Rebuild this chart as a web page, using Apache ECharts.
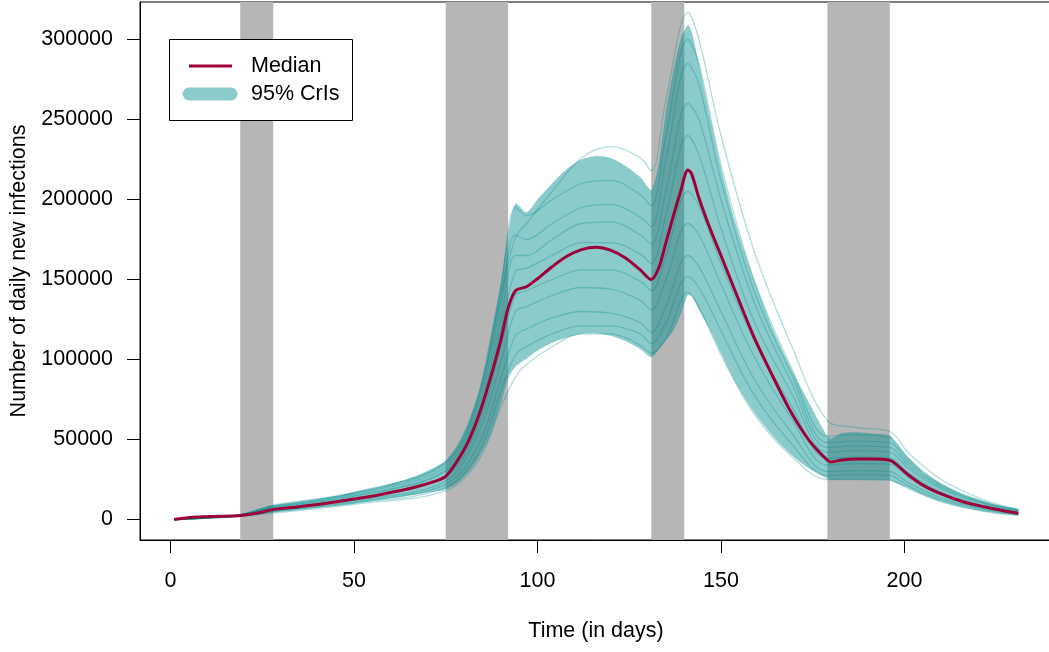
<!DOCTYPE html>
<html>
<head>
<meta charset="utf-8">
<script src="https://cdn.jsdelivr.net/npm/echarts@6/dist/echarts.min.js"></script>
<style>
  body { margin: 0; padding: 0; background: #fff; }
  #chart { width: 1049px; height: 652px; }
</style>
</head>
<body>
<div id="chart"></div>
<script>
const days = [1, 7, 14, 19, 24, 28, 35, 42, 50, 58, 66, 72, 75, 78, 81, 84, 87, 90, 92, 94,
  97, 100, 104, 108, 112, 116, 120, 124, 128, 131, 133, 135, 137, 139, 141, 142, 144, 147, 150, 154,
  159, 164, 169, 174, 179, 180, 183, 187, 191, 196, 198, 201, 205, 210, 216, 222, 227, 231];

const median = [0, 1500, 2000, 2500, 4200, 6300, 8000, 10000, 12800, 16000, 19800, 23800, 27000, 36000, 48000, 65000, 87000, 112000, 132000, 143000,
  145500, 150500, 158000, 164500, 168700, 170200, 168200, 163500, 156000, 150000, 157000, 173000, 189500, 205000, 218500, 216000, 201000, 182000, 165000, 142000,
  114000, 90000, 67500, 49500, 37000, 36000, 37200, 37800, 37800, 37000, 34000, 28000, 21500, 16000, 11100, 7800, 5500, 3900];

const upper = [0, 1800, 2500, 3200, 6500, 9000, 11000, 13500, 17000, 21000, 26500, 32500, 37000, 46000, 60000, 80000, 112000, 148000, 178000, 197500,
  192000, 200000, 210000, 219000, 225000, 227200, 226000, 221000, 214000, 206000, 222000, 255000, 280000, 300000, 309000, 305000, 285000, 252000, 220000, 185000,
  150000, 120000, 95000, 73000, 52000, 50500, 54000, 54500, 53800, 52500, 47000, 39000, 30000, 22500, 15500, 11000, 8000, 6300];

const lower = [0, 1200, 1700, 2000, 3000, 4400, 6000, 7800, 9900, 12500, 15300, 17500, 18800, 22500, 29000, 38500, 52000, 72000, 88000, 95500,
  100500, 105500, 110500, 113800, 116000, 116300, 114800, 111500, 106500, 101500, 106000, 112000, 118000, 128000, 140500, 139500, 131000, 118500, 104000, 85500,
  67000, 52500, 40800, 31800, 25500, 24800, 24800, 24800, 24800, 24500, 22500, 19800, 15500, 11200, 7500, 5000, 3500, 2700];

// individual posterior trajectories (thin lines)
const sampleDays = [1, 19, 28, 50, 75, 84, 90, 94, 97, 104, 112, 120, 128, 131, 135, 141, 144, 150, 159, 169, 179, 187, 196, 201, 210, 222, 231];
const samples = [
  [0, 3000, 9000, 17000, 36000, 78000, 140000, 176000, 185000, 205000, 226000, 233000, 226000, 218000, 262000, 317000, 300000, 240000, 168000, 110000, 62000, 57500, 55000, 42000, 25000, 12000, 6500],
  [0, 3000, 8500, 16500, 35000, 76000, 145000, 195000, 190000, 200000, 210000, 212000, 203000, 196000, 240000, 300000, 285000, 222000, 150000, 96000, 52000, 53000, 51000, 38000, 22000, 11000, 6000],
  [0, 2900, 8000, 16000, 33000, 72000, 135000, 178000, 175000, 185000, 195000, 197000, 189000, 183000, 225000, 285000, 272000, 212000, 143000, 92000, 48000, 49000, 48000, 36000, 21000, 10500, 5800],
  [0, 2800, 7500, 15000, 31000, 68000, 125000, 165000, 165000, 175000, 185000, 186000, 178000, 172000, 205000, 260000, 250000, 200000, 136000, 87000, 45000, 46000, 45000, 34000, 20000, 10000, 5500],
  [0, 2700, 7200, 14500, 30000, 63000, 118000, 155000, 157000, 165000, 173000, 173000, 166000, 160000, 190000, 240000, 228000, 182000, 124000, 80000, 42000, 43000, 42000, 32000, 19000, 9500, 5200],
  [0, 2500, 6500, 13000, 27000, 60000, 108000, 140000, 143000, 150000, 156000, 156000, 149000, 143000, 165000, 205000, 196000, 160000, 112000, 72000, 38000, 39000, 38500, 29000, 17000, 8500, 4600],
  [0, 2400, 6000, 12000, 24000, 55000, 98000, 130000, 133000, 140000, 145000, 144000, 137000, 131000, 150000, 185000, 178000, 147000, 102000, 64000, 34000, 35000, 34500, 26500, 15500, 7700, 4200],
  [0, 2200, 5300, 11000, 22000, 47000, 88000, 115000, 119000, 126000, 130000, 129000, 123000, 117000, 133000, 165000, 158000, 130000, 88000, 55000, 30000, 30500, 30000, 23000, 13500, 6600, 3600],
  [0, 2100, 4800, 10300, 20000, 42000, 80000, 103000, 108000, 116000, 121000, 121000, 116000, 110000, 123000, 152000, 145000, 118000, 78000, 48000, 27500, 28000, 27500, 21000, 12200, 6000, 3200],
  [0, 2000, 4000, 9500, 18000, 37000, 70000, 89000, 97000, 108000, 116000, 116000, 109000, 104000, 113000, 142000, 133000, 103000, 66000, 40000, 25000, 25000, 24500, 19500, 11000, 5000, 2700]
];

// shaded intervention periods [start, end] in days
const bands = [[19, 28], [75, 92], [131, 140], [179, 196]];

const yTicks = [0, 50000, 100000, 150000, 200000, 250000, 300000];
const xTicks = [0, 50, 100, 150, 200];

const FONT = 'Liberation Sans, Arial, sans-serif';
const FS = 21.5;
const TEAL_FILL = 'rgba(0,139,139,0.45)';
const TEAL_LINE = 'rgba(0,139,139,0.3)';
const MEDIAN_COL = '#9e0039';

const pairs = (xs, ys) => xs.map((x, i) => [x, ys[i]]);

const series = [];

// gray periods, drawn first
series.push({
  type: 'line',
  data: [],
  silent: true,
  markArea: {
    silent: true,
    itemStyle: { color: '#b6b6b6' },
    data: bands.map(b => [{ xAxis: b[0] }, { xAxis: b[1] }])
  }
});

// 95% CrI band as one polygon: upper edge then lower edge backwards
series.push({
  type: 'custom',
  silent: true,
  clip: true,
  data: [[days[0], 0]],
  renderItem: function (params, api) {
    const pts = [];
    days.forEach((d, i) => pts.push(api.coord([d, upper[i]])));
    for (let i = days.length - 1; i >= 0; i--) pts.push(api.coord([days[i], lower[i]]));
    return {
      type: 'polygon',
      shape: { points: pts, smooth: 0.25 },
      style: { fill: TEAL_FILL, stroke: null }
    };
  }
});

samples.forEach(s => {
  series.push({
    type: 'line',
    data: pairs(sampleDays, s),
    smooth: 0.35,
    symbol: 'none',
    lineStyle: { color: TEAL_LINE, width: 1.3 },
    silent: true
  });
});

series.push({
  type: 'line',
  name: 'Median',
  data: pairs(days, median),
  smooth: 0.3,
  symbol: 'none',
  lineStyle: { color: MEDIAN_COL, width: 3 },
  silent: true
});

const chart = echarts.init(document.getElementById('chart'), null, { renderer: 'canvas' });
chart.setOption({
  animation: false,
  backgroundColor: '#fff',
  textStyle: { fontFamily: FONT },
  grid: {
    left: 140, top: 2, width: 912, height: 538,
    outerBoundsMode: 'none',
    containLabel: false,
    show: true, borderColor: '#000', borderWidth: 1, backgroundColor: 'transparent'
  },
  xAxis: {
    type: 'value',
    min: -8.3, max: 240.2,
    name: 'Time (in days)',
    nameLocation: 'middle',
    nameGap: 80,
    nameTextStyle: { fontSize: FS, color: '#000', fontFamily: FONT },
    splitLine: { show: false },
    axisLine: { show: true, onZero: false, lineStyle: { color: '#000', width: 1 } },
    axisTick: { show: true, length: 13, customValues: xTicks, lineStyle: { color: '#000' } },
    axisLabel: { customValues: xTicks, margin: 30, fontSize: FS, color: '#000', fontFamily: FONT,
      formatter: v => String(v) }
  },
  yAxis: {
    type: 'value',
    min: -12810, max: 323440,
    name: 'Number of daily new infections',
    nameLocation: 'middle',
    nameGap: 108,
    nameTextStyle: { fontSize: FS, color: '#000', fontFamily: FONT },
    splitLine: { show: false },
    axisLine: { show: true, onZero: false, lineStyle: { color: '#000', width: 1 } },
    axisTick: { show: true, length: 13, customValues: yTicks, lineStyle: { color: '#000' } },
    axisLabel: { customValues: yTicks, margin: 27, fontSize: FS, color: '#000', fontFamily: FONT,
      formatter: v => String(v) }
  },
  graphic: [
    { type: 'rect', shape: { x: 169.5, y: 39.5, width: 183, height: 81 },
      style: { fill: '#fff', stroke: '#000', lineWidth: 1 }, z: 100 },
    { type: 'line', shape: { x1: 189, y1: 66, x2: 232, y2: 66 },
      style: { stroke: MEDIAN_COL, lineWidth: 3 }, z: 101 },
    { type: 'line', shape: { x1: 189, y1: 94, x2: 231, y2: 94 },
      style: { stroke: TEAL_FILL, lineWidth: 13, lineCap: 'round' }, z: 101 },
    { type: 'text', x: 251, y: 66, z: 101,
      style: { text: 'Median', fontSize: FS, fontFamily: FONT, fill: '#000', verticalAlign: 'middle' } },
    { type: 'text', x: 251, y: 94, z: 101,
      style: { text: '95% CrIs', fontSize: FS, fontFamily: FONT, fill: '#000', verticalAlign: 'middle' } }
  ],
  series: series
});
</script>
</body>
</html>
